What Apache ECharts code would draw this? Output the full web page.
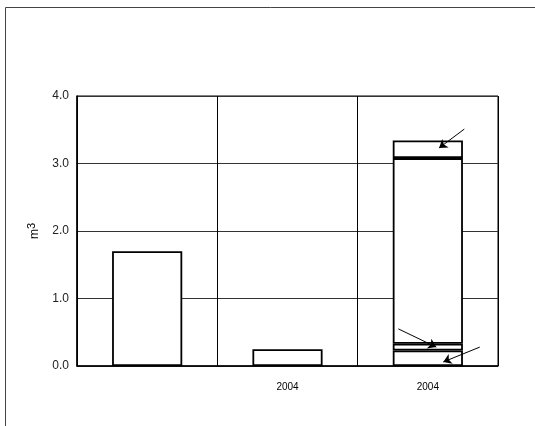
<!DOCTYPE html>
<html><head><meta charset="utf-8">
<script src="https://cdn.jsdelivr.net/npm/echarts@6/dist/echarts.min.js"></script>
<style>html,body{margin:0;padding:0;background:#fff}#c{width:535px;height:426px}</style>
</head><body><div id="c"></div>
<script>
var categories = ['', '2004', '2004'];
var yTicks = [0, 1, 2, 3, 4];
// stacked segments (m3)
var seg1 = [1.70, 0.25, 0.23];
var seg2 = ['-', '-', 0.10];
var seg3 = ['-', '-', 2.75];
var seg4 = ['-', '-', 0.26];
// annotation arrows in data units [x (category units 0..3), y]
var arrows = [
  [[2.76, 3.51], [2.58, 3.23]],
  [[2.29, 0.55], [2.56, 0.28]],
  [[2.87, 0.28], [2.61, 0.06]]
];

var chart = echarts.init(document.getElementById('c'));
function barSeries(d){
  return {type:'bar', stack:'s', data:d, barWidth:'50%', xAxisIndex:0, z:2,
    itemStyle:{color:'#fff', borderColor:'#000', borderWidth:1.8}, silent:true};
}
chart.setOption({
  animation:false,
  grid:{left:77, right:37, top:96, bottom:60, show:true, borderColor:'#000', borderWidth:1, backgroundColor:'transparent'},
  graphic:[{type:'rect', shape:{x:5.5, y:7.5, width:560, height:450}, style:{fill:'none', stroke:'#444', lineWidth:1}, silent:true}],
  xAxis:[{type:'category', data:categories,
    axisLine:{lineStyle:{color:'#000', width:1.5}},
    axisTick:{show:true, alignWithLabel:true, inside:true, length:3, lineStyle:{color:'#000'}},
    axisLabel:{color:'#000', fontSize:10, fontFamily:'Liberation Sans Narrow, Liberation Sans, Arial', margin:16},
    splitLine:{show:true, lineStyle:{color:'#000', width:1}}
  },{type:'value', min:0, max:3, show:false}],
  yAxis:{type:'value', min:0, max:4, interval:1,
    name:'{a|m}{b|3}', nameLocation:'middle', nameGap:33, nameRotate:90,
    nameTextStyle:{rich:{a:{fontSize:12, fontFamily:'Liberation Sans, Arial', color:'#000'}, b:{fontSize:11, fontFamily:'Liberation Sans, Arial', color:'#000', padding:[0,0,7,0]}}},
    axisLine:{show:true, lineStyle:{color:'#000', width:1.5}},
    axisTick:{show:false},
    axisLabel:{color:'#222', fontSize:12, fontFamily:'Liberation Sans, Arial', margin:8, formatter:function(v){return v.toFixed(1);}},
    splitLine:{show:true, lineStyle:{color:'#333', width:1}}
  },
  series:[barSeries(seg1), barSeries(seg2), barSeries(seg3), barSeries(seg4),
    {type:'lines', coordinateSystem:'cartesian2d', xAxisIndex:1, yAxisIndex:0, silent:true, z:10, zlevel:0,
     symbol:['none','arrow'], symbolSize:8,
     lineStyle:{color:'#000', width:1, opacity:1},
     data:arrows.map(function(a){return {coords:a};})}
  ]
});
</script></body></html>
